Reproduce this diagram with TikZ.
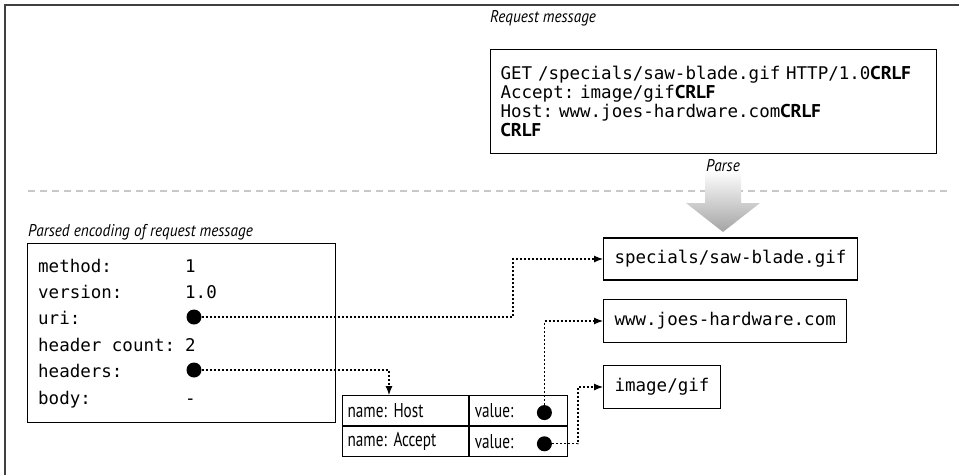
\documentclass[tikz,border=0pt]{standalone}
\usepackage{fontspec}
\setmonofont[WordSpace={1,0,0}]{DejaVu Sans Mono}
\newfontfamily\capfont[FakeStretch=0.9]{PT Sans}
\newfontfamily\cellfont[FakeStretch=0.76]{PT Sans}
\newfontfamily\crlffont{PT Sans}
\usetikzlibrary{positioning,arrows.meta,calc}
\frenchspacing
\definecolor{framegray}{HTML}{404040}
\definecolor{splitgray}{HTML}{C8C8C8}
\definecolor{arrowgray}{HTML}{A4A4A4}
\newcommand{\CRLF}{{\crlffont\bfseries\fontsize{18.5}{19}\selectfont CRLF}}
\tikzset{
  msgbox/.style={draw,line width=1.2pt,font=\ttfamily\fontsize{17.5}{19}\selectfont,
                 inner xsep=10pt},
  caption/.style={font=\capfont\itshape\fontsize{17}{20}\selectfont,inner sep=0pt},
  field/.style={font=\ttfamily\fontsize{17.5}{19}\selectfont,anchor=base west,inner sep=0pt},
  ptr/.style={circle,fill=black,inner sep=0pt,minimum size=15pt},
  cell/.style={draw,line width=1.2pt,minimum height=30pt,inner xsep=5pt,align=left,
               font=\cellfont\fontsize{20}{22}\selectfont,anchor=north west},
  link/.style={line width=1.1pt,dash pattern=on 2pt off 2pt,-{Latex[length=9pt,width=7pt]}},
}

\begin{document}
\begin{tikzpicture}[x=1pt,y=-1pt]
  \useasboundingbox (0,0) rectangle (959,475);
  \draw[framegray,line width=1.2pt] (959,5) -- (5,5) -- (5,475);

  % raw request
  \node[msgbox,anchor=north west,minimum height=104pt,text width=436pt,inner xsep=5pt,align=left] (reqmsg)
    at (490,49) {\hspace*{5pt}GET /specials/saw-blade.gif HTTP/1.0\CRLF\\
                 \hspace*{5pt}Accept: image/gif\CRLF\\
                 \hspace*{5pt}Host: www.joes-hardware.com\CRLF\\
                 \hspace*{5pt}\CRLF};
  \node[caption,anchor=base west] (reqcap) at ($(reqmsg.north west)+(0,27pt)$) {Request message};

  % separator and parse arrow
  \draw[splitgray,line width=2pt,dash pattern=on 7pt off 5pt] (28,191) -- (950,191);
  \shade[top color=white,bottom color=arrowgray]
    (705,170) -- (741,170) -- (741,203) -- (760,203) -- (723,232) -- (686,203) -- (705,203) -- cycle;
  \node[caption] (parselbl) at (723,166) {Parse};

  % parsed structure
  \node[caption,anchor=base west] (enccap) at (28,236) {Parsed encoding of request message};
  \node[draw,line width=1.2pt,anchor=north west,minimum width=308pt,minimum height=179pt,
        inner sep=0pt] (encbox) at (27,243) {};
  \foreach \key/\val [count=\i] in {method:/1,version:/1.0,uri:/{},header count:/2,headers:/{},body:/-}{
    \node[field] (key\i) at (38,{272+(\i-1)*26.4}) {\key};
    \node[field] (val\i) at (185,{272+(\i-1)*26.4}) {\val};
  }
  \node[ptr] (uridot) at (194,317) {};
  \node[ptr] (hdrdot) at (194,370) {};

  % targets
  \node[msgbox,anchor=west,minimum height=42pt,inner xsep=11pt] (uribox) at (603,259) {specials/saw-blade.gif};
  \node[msgbox,anchor=west,minimum height=43pt,inner xsep=11pt] (hostbox) at (603,321) {www.joes-hardware.com};
  \node[msgbox,anchor=west,minimum height=43pt,inner xsep=11pt] (typebox) at (603,387) {image/gif};

  % header table
  \node[cell,text width=116pt] (hname) at (342,395) {name: Host};
  \node[cell,text width=88pt] (hval) at (hname.north east) {value:};
  \node[cell,text width=116pt] (aname) at (hname.south west) {name: Accept};
  \node[cell,text width=88pt] (aval) at (aname.north east) {value:};
  \node[ptr] (hostdot) at ($(hval.east)+(-24,2)$) {};
  \node[ptr] (acceptdot) at ($(aval.east)+(-24,2)$) {};

  % pointers
  \draw[link] (uridot.east) -| ([xshift=-90pt]uribox.west) -- (uribox.west);
  \draw[link] (hdrdot.east) -| ([xshift=47pt]hname.north west);
  \draw[link] (hostdot.north) |- (hostbox.west);
  \draw[link] (acceptdot.east) -| ([xshift=-25pt]typebox.west) -- (typebox.west);
\end{tikzpicture}
\end{document}
